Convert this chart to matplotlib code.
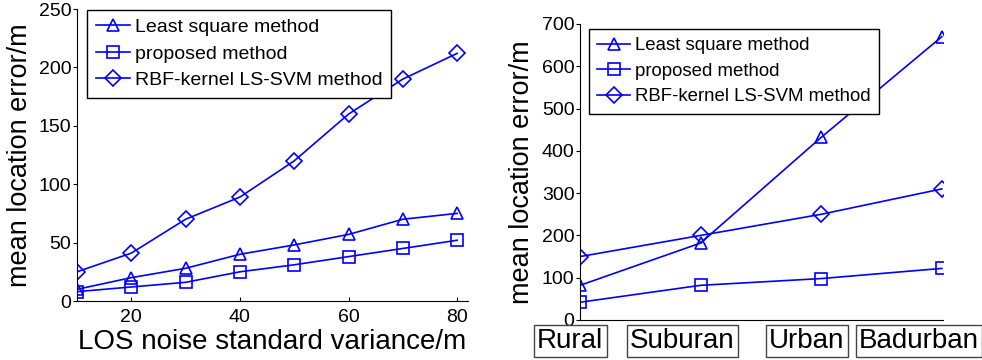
import matplotlib
matplotlib.use("Agg")
import matplotlib.pyplot as plt

plt.rcParams['font.family'] = ['Liberation Sans', 'DejaVu Sans']

# Left chart data
noise_std = [10, 20, 30, 40, 50, 60, 70, 80]
ls_left = [10, 20, 28, 40, 48, 57, 70, 75]
proposed_left = [8, 12, 16, 25, 31, 38, 45, 52]
rbf_left = [25, 41, 70, 89, 120, 160, 190, 212]

# Right chart data
environments = ['Rural', 'Suburan', 'Urban', 'Badurban']
ls_right = [82, 182, 432, 670]
proposed_right = [42, 82, 98, 122]
rbf_right = [150, 200, 250, 310]

legend_labels = ['Least square method', 'proposed method', 'RBF-kernel LS-SVM method']

W, H = 982, 360
fig = plt.figure(figsize=(W / 100, H / 100), dpi=100)

def px_axes(l, r, b, t):
    return fig.add_axes([l / W, (H - b) / H, (r - l) / W, (b - t) / H])

blue = '#0000ff'
mk = dict(color=blue, lw=1.2, markersize=9, markerfacecolor='none',
          markeredgecolor=blue, markeredgewidth=1.2)

def style(ax):
    for s in ['top', 'right']:
        ax.spines[s].set_visible(False)
    for s in ['left', 'bottom']:
        ax.spines[s].set_linewidth(0.8)
    ax.tick_params(axis='y', direction='out', length=3, width=0.8, labelsize=14, pad=1)
    ax.tick_params(axis='x', direction='in', length=3, width=0.8, labelsize=14, pad=6)

def legend(ax, anchor, fs):
    lg = ax.legend(legend_labels, loc='upper left', bbox_to_anchor=anchor,
                   borderaxespad=0, fontsize=fs, frameon=True, fancybox=False,
                   framealpha=1, edgecolor='black', handlelength=1.75,
                   handletextpad=0.25, labelspacing=0.45, borderpad=0.45)
    lg.get_frame().set_linewidth(1.0)

# Left axes
ax1 = px_axes(77, 468, 301, 9)
ax1.plot(noise_std, ls_left, marker='^', **mk)
ax1.plot(noise_std, proposed_left, marker='s', **mk)
ax1.plot(noise_std, rbf_left, marker='D', **{**mk, 'markersize': 8})
ax1.set_xlim(10, 82)
ax1.set_ylim(0, 250)
ax1.set_xticks([20, 40, 60, 80])
ax1.set_yticks([0, 50, 100, 150, 200, 250])
style(ax1)
ax1.set_ylabel('mean location error/m', fontsize=19.5)
ax1.set_xlabel('LOS noise standard variance/m', fontsize=20, labelpad=2)
ax1.yaxis.set_label_coords(-0.1125, 0.5)
legend(ax1, (0.026, 0.997), 14)

# Right axes
ax2 = px_axes(580, 943, 320, 24)
xpos = list(range(1, len(environments) + 1))
ax2.plot(xpos, ls_right, marker='^', **mk)
ax2.plot(xpos, proposed_right, marker='s', **mk)
ax2.plot(xpos, rbf_right, marker='D', **{**mk, 'markersize': 8})
ax2.set_xlim(1, 4.01)
ax2.set_ylim(0, 700)
ax2.set_xticks([])
ax2.set_yticks(range(0, 701, 100))
style(ax2)
ax2.set_ylabel('mean location error/m', fontsize=19.5)
ax2.yaxis.set_label_coords(-0.124, 0.5)
legend(ax2, (0.025, 0.983), 13.4)

# Boxed category labels below right axes
label_x = [537, 630, 769, 859]
for x, name in zip(label_x, environments):
    fig.text(x / W, 1 - 341 / H, name, fontsize=20, ha='left', va='center',
             bbox=dict(boxstyle='square,pad=0.12', facecolor='white',
                       edgecolor='#444444', linewidth=1.0))

fig.savefig('out.png', dpi=100)
